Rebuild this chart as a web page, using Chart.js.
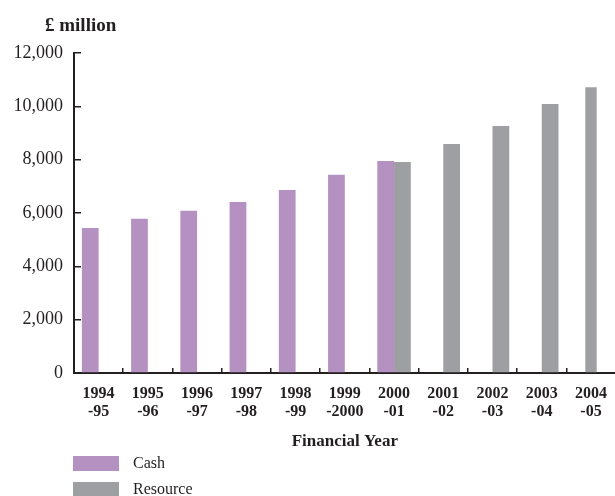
<!DOCTYPE html>
<html>
<head>
<meta charset="utf-8">
<script src="https://cdn.jsdelivr.net/npm/chart.js@4/dist/chart.umd.min.js"></script>
<style>
  html, body { margin: 0; padding: 0; background: #fff; overflow: hidden; }
  #wrap { position: relative; width: 624px; height: 496px; }
  #unit { position: absolute; left: 45px; top: 14px; font: bold 19px 'Liberation Serif', serif; color: #231f20; }
  #legend { position: absolute; left: 73px; top: 450px; font: 16px 'Liberation Serif', serif; color: #231f20; }
  .leg-row { display: flex; align-items: center; height: 26px; }
  .leg-box { width: 46px; height: 15px; margin-right: 14px; }
</style>
</head>
<body>
<div id="wrap">
  <canvas id="chart" width="624" height="496"></canvas>
  <div id="unit">£ million</div>
  <div id="legend"></div>
</div>
<script>
// valeurs (£ million)
const YEARS = [
  ['1994', '-95'], ['1995', '-96'], ['1996', '-97'], ['1997', '-98'], ['1998', '-99'],
  ['1999', '-2000'], ['2000', '-01'], ['2001', '-02'], ['2002', '-03'], ['2003', '-04'], ['2004', '-05'],
];
const CASH     = [5440, 5780, 6080, 6410, 6860, 7430, 7950, null, null, null, null];
const RESOURCE = [null, null, null, null, null, null, 7910, 8590, 9260, 10090, 10720];
const Y_TICKS  = [0, 2000, 4000, 6000, 8000, 10000, 12000];

const INK = '#231f20';
const SERIF = "'Liberation Serif', serif";
const CASH_COL = '#b591c1';
const RES_COL = '#9e9fa3';

// la dernière barre Resource est seule et centrée dans sa catégorie
const LAST = YEARS.length - 1;
const resGrouped = RESOURCE.map((v, i) => (i === LAST ? null : v));
const resAlone   = RESOURCE.map((v, i) => (i === LAST ? v : null));

const chart = new Chart(document.getElementById('chart'), {
  type: 'bar',
  data: {
    labels: YEARS,
    datasets: [
      { label: 'Cash', data: CASH, backgroundColor: CASH_COL },
      { label: 'Resource', data: resGrouped, backgroundColor: RES_COL },
      { label: 'Resource', data: resAlone, backgroundColor: RES_COL, grouped: false, barPercentage: 0.34 },
    ],
  },
  options: {
    responsive: false, animation: false, devicePixelRatio: 1,
    categoryPercentage: 0.68, barPercentage: 1.0,
    layout: { padding: { top: 53, left: 0, right: 0, bottom: 44 } },
    plugins: { legend: { display: false }, tooltip: { enabled: false } },
    scales: {
      x: {
        afterFit: s => { s.height = 79; },
        grid: { offset: true, drawOnChartArea: false, tickLength: -5, color: INK, lineWidth: 1.5 },
        border: { color: INK, width: 2 },
        ticks: { color: INK, padding: 17, maxRotation: 0, autoSkip: false,
                 font: { family: SERIF, size: 16, weight: 'bold', lineHeight: 1.125 } },
        title: { display: true, text: 'Financial Year', color: INK, padding: { top: 0, bottom: 0 },
                 font: { family: SERIF, size: 17, weight: 'bold', lineHeight: 1.2 } },
      },
      y: {
        min: 0, max: 12000,
        afterFit: s => { s.width = 74; },
        afterBuildTicks: s => { s.ticks = Y_TICKS.map(v => ({ value: v })); },
        grid: { drawOnChartArea: false, tickLength: -7, color: INK, lineWidth: 1.5 },
        border: { color: INK, width: 2 },
        ticks: { color: INK, padding: 18,
                 callback: v => v.toLocaleString('en-GB'),
                 font: { family: SERIF, size: 18 } },
      },
    },
  },
});

// légende verticale en HTML (une entrée par série)
const legendItems = [
  { label: 'Cash', color: CASH_COL },
  { label: 'Resource', color: RES_COL },
];
document.getElementById('legend').innerHTML = legendItems.map(d =>
  `<div class="leg-row"><div class="leg-box" style="background:${d.color}"></div>${d.label}</div>`
).join('');
</script>
</body>
</html>
